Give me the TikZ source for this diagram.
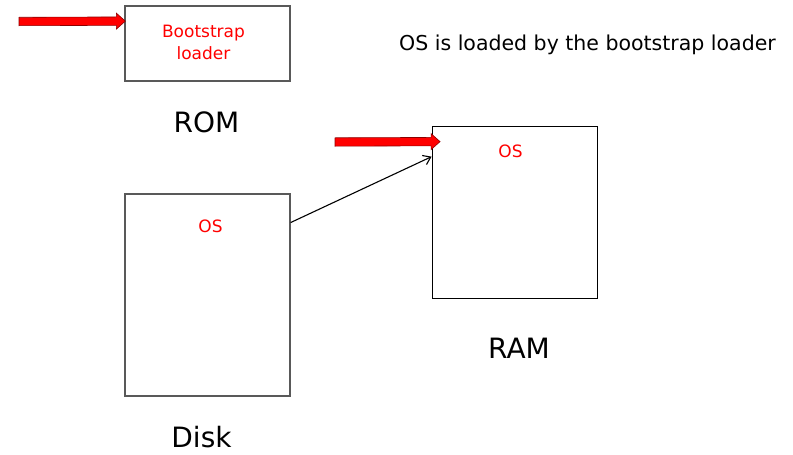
\documentclass[tikz,border=0pt]{standalone}
\usepackage{fontspec}
\setmainfont{DejaVu Sans}
\usetikzlibrary{arrows.meta,calc}
\begin{document}
\begin{tikzpicture}[x=1pt,y=-1pt,
  membox/.style={draw=#1,inner sep=0pt,minimum width=165pt},
  bigtext/.style={font=\fontsize{28}{30}\selectfont,anchor=base,inner sep=0pt},
  redtext/.style={text=red,font=\fontsize{17}{22}\selectfont,inner sep=0pt},
  fatshape/.style={fill=red,draw=red!55!black,line width=0.6pt,line join=miter},
  thinarrow/.style={draw=black,line width=1.1pt,-{Straight Barb[length=7pt,width=10pt]}}]
\useasboundingbox (0,0) rectangle (793,455);
% boxes
\node[membox=black!65,line width=1.3pt,minimum height=75pt] (rom) at (207.5,43.5) {};
\node[membox=black!65,line width=1.3pt,minimum height=202pt] (disk) at (207.5,295) {};
\node[membox=black,line width=0.9pt,minimum height=172pt] (ram) at (514.5,212) {};
% texts
\node[redtext,align=center] (boot) at (203.5,42.5) {Bootstrap\\loader};
\node[redtext,anchor=base] (osdisk) at (210.5,232) {OS};
\node[redtext,anchor=base] (osram) at (510.5,157) {OS};
\node[bigtext] (romlbl) at (206.5,132) {ROM};
\node[bigtext] (ramlbl) at (519,358) {RAM};
\node[bigtext] (disklbl) at (201.5,447) {Disk};
\node[font=\fontsize{20.5}{24}\selectfont,anchor=base,inner sep=0pt] (title) at (587.5,50) {OS is loaded by the bootstrap loader};
% arrows
\coordinate (t1) at (19,21.5);
\coordinate (t2) at (335,142);
\coordinate (h1) at ($(rom.north west)!0.207!(rom.south west)+(1,0)$);
\coordinate (h2) at ($(ram.north west)!0.093!(ram.south west)+(8.5,0)$);
\filldraw[fatshape] ($(t1)+(0,-4.2)$) -- ($(h1)+(-9,-4.2)$) -- ($(h1)+(-9,-8)$) -- (h1)
  -- ($(h1)+(-9,8)$) -- ($(h1)+(-9,4.2)$) -- ($(t1)+(0,4.2)$) -- cycle;
\filldraw[fatshape] ($(t2)+(0,-4.2)$) -- ($(h2)+(-9,-4.2)$) -- ($(h2)+(-9,-8)$) -- (h2)
  -- ($(h2)+(-9,8)$) -- ($(h2)+(-9,4.2)$) -- ($(t2)+(0,4.2)$) -- cycle;
\draw[thinarrow] ($(disk.north east)!0.1436!(disk.south east)$) -- ($(ram.north west)!0.18!(ram.south west)$);
\end{tikzpicture}
\end{document}
